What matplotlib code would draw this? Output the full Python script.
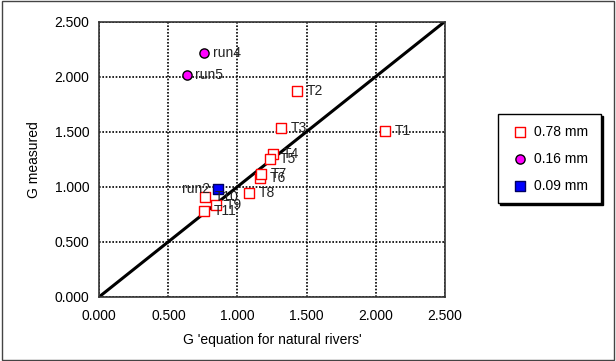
import numpy as np
import matplotlib.pyplot as plt
from matplotlib.patches import Rectangle

plt.rcParams['font.family'] = ['Liberation Sans', 'DejaVu Sans']

# 0.78 mm series
t_labels = ['T1', 'T2', 'T3', 'T4', 'T5', 'T6', 'T7', 'T8', 'T9', 'T10', 'T11']
t_x = [2.068, 1.430, 1.314, 1.256, 1.237, 1.165, 1.174, 1.083, 0.846, 0.764, 0.761]
t_y = [1.505, 1.869, 1.536, 1.297, 1.248, 1.075, 1.112, 0.939, 0.833, 0.909, 0.778]

# 0.16 mm series
run_labels = ['run4', 'run5']
run_x = [0.761, 0.633]
run_y = [2.212, 2.012]

# 0.09 mm series
fine_labels = ['run2']
fine_x = [0.862]
fine_y = [0.975]

ticks = [0.0, 0.5, 1.0, 1.5, 2.0, 2.5]
fs = 10

fig = plt.figure(figsize=(6.16, 3.61), dpi=100)
ax = fig.add_axes([0.1612, 0.178, 0.5607, 0.762])

ax.plot([0, 2.5], [0, 2.5], color='black', lw=2.2, zorder=2)

h1 = ax.scatter(t_x, t_y, marker='s', s=46, facecolor='white', edgecolor='red', linewidth=1.0, zorder=3, label='0.78 mm')
h2 = ax.scatter(run_x, run_y, marker='o', s=44, facecolor='magenta', edgecolor='black', linewidth=1.0, zorder=3, label='0.16 mm')
h3 = ax.scatter(fine_x, fine_y, marker='s', s=52, facecolor='blue', edgecolor='#000060', linewidth=1.0, zorder=3, label='0.09 mm')

for lab, x, y in zip(t_labels, t_x, t_y):
    ax.annotate(lab, (x, y), xytext=(7, 0), textcoords='offset points', va='center', fontsize=fs, color='#222222', zorder=4)
for lab, x, y in zip(run_labels, run_x, run_y):
    ax.annotate(lab, (x, y), xytext=(6, 0), textcoords='offset points', va='center', fontsize=fs, color='#222222', zorder=4)
for lab, x, y in zip(fine_labels, fine_x, fine_y):
    ax.annotate(lab, (x, y), xytext=(-6, 0), textcoords='offset points', va='center', ha='right', fontsize=fs, color='#222222', zorder=4)

ax.set_xlim(0, 2.5)
ax.set_ylim(0, 2.5)
ax.set_xticks(ticks)
ax.set_yticks(ticks)
ax.set_xticklabels([f'{v:.3f}' for v in ticks], fontsize=fs)
ax.set_yticklabels([f'{v:.3f}' for v in ticks], fontsize=fs)
ax.tick_params(axis='y', length=0, pad=7)
ax.tick_params(axis='x', length=0, pad=9)
ax.grid(True, color='black', linestyle=(0, (1, 1)), lw=1.2)
ax.set_axisbelow(True)
for sp in ax.spines.values():
    sp.set_color('#333333')
    sp.set_linewidth(1.2)

ax.set_xlabel("G 'equation for natural rivers'", fontsize=fs, labelpad=7)
ax.set_ylabel('G measured', fontsize=fs, labelpad=10)

# legend box with a slight shadow
lx0, ly0, lw_, lh = 497.5 / 616, 1 - 203.5 / 361, 103.5 / 616, 89.5 / 361
fig.patches.append(Rectangle((lx0 + 2 / 616, ly0 - 2 / 361), lw_, lh, transform=fig.transFigure,
                             facecolor='black', edgecolor='black', zorder=1))
fig.patches.append(Rectangle((lx0, ly0), lw_, lh, transform=fig.transFigure,
                             facecolor='white', edgecolor='black', lw=1.0, zorder=2))
leg = fig.legend(handles=[h1, h2, h3], loc='center', bbox_to_anchor=(lx0 + lw_ / 2 + 0.002, ly0 + lh / 2),
                 frameon=False, fontsize=fs, handletextpad=0.5, labelspacing=0.95, handlelength=1.0)

# figure border
fig.patches.append(Rectangle((0.003, 0.002), 0.994, 0.994, transform=fig.transFigure,
                             facecolor='none', edgecolor='#444444', lw=1.0))

fig.savefig('out.png', dpi=100)
